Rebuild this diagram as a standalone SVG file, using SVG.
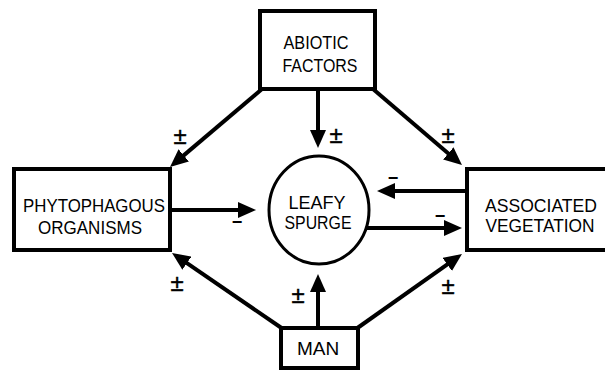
<svg xmlns="http://www.w3.org/2000/svg" width="605" height="371" viewBox="0 0 605 371">
<style>
.box{fill:#fff;stroke:#000;stroke-width:4}
.lbl{font-family:"Liberation Sans",Arial,sans-serif;font-size:19px;fill:#000;text-anchor:middle}
.sign{font-family:"Liberation Sans",Arial,sans-serif;font-size:24px;fill:#000;stroke:#000;stroke-width:0.4;text-anchor:middle}
.dash{font-family:"Liberation Sans",Arial,sans-serif;font-size:18px;font-weight:bold;fill:#000;text-anchor:middle}
.edge{stroke:#000;stroke-width:4;fill:none;marker-end:url(#ah)}
</style>
<defs>
<marker id="ah" markerUnits="userSpaceOnUse" markerWidth="18" markerHeight="16" refX="7" refY="8" orient="auto">
<path d="M0,0 L18,8 L0,16 Z" fill="#000"/>
</marker>
</defs>
<rect width="605" height="371" fill="#fff"/>
<g id="connectors">
<line class="edge" x1="262" y1="89" x2="178.4" y2="159.9"/>
<line class="edge" x1="318" y1="89" x2="318" y2="137"/>
<line class="edge" x1="373" y1="89" x2="453.6" y2="157.9"/>
<line class="edge" x1="170" y1="210" x2="245" y2="210"/>
<line class="edge" x1="467" y1="191" x2="388" y2="191"/>
<line class="edge" x1="366" y1="228" x2="451" y2="228"/>
<line class="edge" x1="283" y1="329" x2="181.1" y2="259.2"/>
<line class="edge" x1="318" y1="328" x2="318" y2="285"/>
<line class="edge" x1="356" y1="329" x2="453" y2="260.4"/>
<text class="sign" x="180" y="144">±</text>
<text class="sign" x="336" y="143">±</text>
<text class="sign" x="448" y="143">±</text>
<text class="sign" x="177" y="291">±</text>
<text class="sign" x="298" y="303">±</text>
<text class="sign" x="448" y="294">±</text>
<text class="dash" x="237" y="228">−</text>
<text class="dash" x="393" y="184">−</text>
<text class="dash" x="440" y="222">−</text>
</g>
<g id="abiotic">
<rect class="box" x="260" y="11" width="115" height="78"/>
<text class="lbl" x="316" y="49" textLength="65" lengthAdjust="spacingAndGlyphs">ABIOTIC</text>
<text class="lbl" x="320" y="72" textLength="75" lengthAdjust="spacingAndGlyphs">FACTORS</text>
</g>
<g id="phytophagous">
<rect class="box" x="14" y="169" width="156" height="81"/>
<text class="lbl" x="94" y="212" textLength="142" lengthAdjust="spacingAndGlyphs">PHYTOPHAGOUS</text>
<text class="lbl" x="90" y="234" textLength="104" lengthAdjust="spacingAndGlyphs">ORGANISMS</text>
</g>
<g id="leafy">
<ellipse cx="319" cy="210" rx="50" ry="54" fill="#fff" stroke="#000" stroke-width="3"/>
<text class="lbl" x="317" y="209" textLength="57" lengthAdjust="spacingAndGlyphs">LEAFY</text>
<text class="lbl" x="318" y="229" textLength="67" lengthAdjust="spacingAndGlyphs">SPURGE</text>
</g>
<g id="associated">
<rect class="box" x="467" y="169" width="145" height="81"/>
<text class="lbl" x="541" y="212" textLength="112" lengthAdjust="spacingAndGlyphs">ASSOCIATED</text>
<text class="lbl" x="540" y="232" textLength="109" lengthAdjust="spacingAndGlyphs">VEGETATION</text>
</g>
<g id="man">
<rect class="box" x="281" y="328" width="77" height="40"/>
<text class="lbl" x="318" y="355">MAN</text>
</g>
</svg>
